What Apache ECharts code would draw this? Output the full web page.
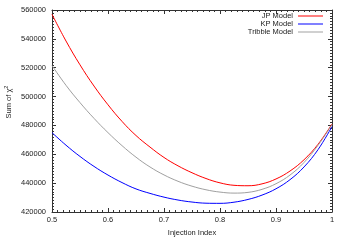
<!DOCTYPE html>
<html>
<head>
<meta charset="utf-8">
<script src="https://cdn.jsdelivr.net/npm/echarts@6/dist/echarts.min.js"></script>
<style>html,body{margin:0;padding:0;background:#fff;}#c{width:346px;height:242px;}</style>
</head>
<body>
<div id="c"></div>
<script>
var injectionIndex = [0.5,0.525,0.55,0.575,0.6,0.625,0.65,0.675,0.7,0.725,0.75,0.775,0.8,0.825,0.85,0.875,0.9,0.925,0.95,0.975,1.0];
var jpModel = [557000,538500,522000,507300,494300,482800,473000,465000,457800,452000,447200,443200,440200,438500,438200,439500,442900,448400,456200,466900,481000];
var kpModel = [475000,466300,458500,451600,445600,440400,436000,432900,430300,428300,426900,426100,426000,426800,428700,431700,436100,442400,451200,463200,479200];
var tribbleModel = [521500,507800,495800,484900,475000,466000,458000,451200,445700,441300,437900,435400,433800,433100,433600,435700,439600,445600,454300,466200,480500];
var seriesNames = ['JP Model','KP Model','Tribble Model'];
var xTitle = 'Injection Index';

function pairs(ys){ return injectionIndex.map(function(x,i){ return [x, ys[i]]; }); }
var FONT = '"Liberation Sans", Arial, sans-serif';
var axisCol = '#333';
function xAx(pos, show){
  return {type:'value', position:pos, min:0.5, max:1, interval:0.1,
    axisLine:{show:true, lineStyle:{color:axisCol, width:1}},
    axisTick:{show:true, inside:true, length:4, lineStyle:{color:axisCol}},
    minorTick:{show:true, splitNumber:10, length:2, lineStyle:{color:axisCol}},
    splitLine:{show:false},
    axisLabel:{show:show, color:'#222', fontSize:7.5, fontFamily:FONT, margin:4},
    name: show ? xTitle : '', nameLocation:'middle', nameGap:17,
    nameTextStyle:{color:'#222', fontSize:7.5, fontFamily:FONT}
  };
}
function yAx(pos, show){
  return {type:'value', position:pos, min:420000, max:560000, interval:20000,
    axisLine:{show:true, lineStyle:{color:axisCol, width:1}},
    axisTick:{show:true, inside:true, length:4, lineStyle:{color:axisCol}},
    minorTick:{show:true, splitNumber:10, length:2, lineStyle:{color:axisCol}},
    splitLine:{show:false},
    axisLabel:{show:show, color:'#222', fontSize:7.5, fontFamily:FONT, margin:6,
      formatter:function(v){ return String(v); }}
  };
}
var chart = echarts.init(document.getElementById('c'), null, {renderer:'canvas'});
var colors = ['#ff0000','#0000ff','#a0a0a0'];
var datas = [jpModel, kpModel, tribbleModel];
chart.setOption({
  animation:false,
  backgroundColor:'#fff',
  grid:{left:52, right:14, top:10, bottom:25},
  xAxis:[xAx('bottom', true), xAx('top', false)],
  yAxis:[yAx('left', true), yAx('right', false)],
  legend:{
    orient:'vertical', right:18, top:9, align:'right', padding:[3,5,3,5],
    itemWidth:25, itemHeight:1, itemGap:0,
    textStyle:{color:'#222', fontSize:7.5, fontFamily:FONT, lineHeight:7.8},
    data: seriesNames.map(function(n,i){ return {name:n, icon:'rect', itemStyle:{color:colors[i]}}; })
  },
  graphic:[{
    type:'text', x:9, y:102, rotation:Math.PI/2,
    style:{
      text:'{a|Sum of χ}{b|2}',
      align:'center', verticalAlign:'middle',
      rich:{
        a:{fontSize:7.5, fontFamily:FONT, fill:'#222', color:'#222'},
        b:{fontSize:5.5, fontFamily:FONT, fill:'#222', color:'#222', padding:[0,0,6,0]}
      }
    }
  }],
  series: datas.map(function(d,i){
    return {name:seriesNames[i], type:'line', smooth:0.4, symbol:'none',
      xAxisIndex:0, yAxisIndex:0,
      lineStyle:{color:colors[i], width:1}, itemStyle:{color:colors[i]},
      data:pairs(d)};
  })
});
</script>
</body>
</html>
